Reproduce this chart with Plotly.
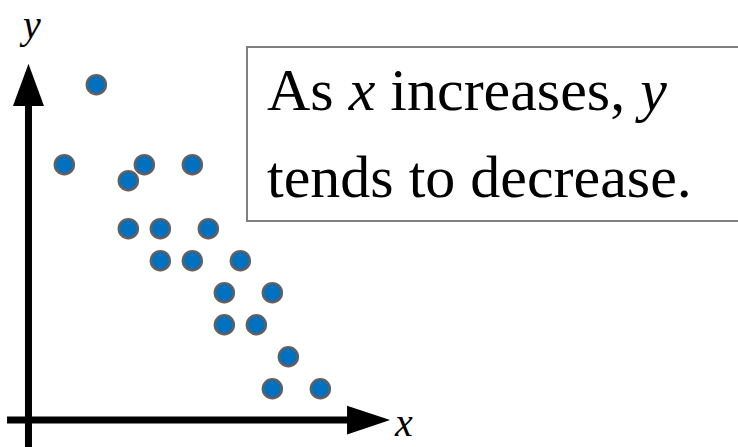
import plotly.graph_objects as go

# scatter data (arbitrary units)
x_vals = [4, 2, 7, 10, 6, 6, 8, 11, 8, 10, 13, 12, 15, 12, 14, 16, 15, 18]
y_vals = [20, 15, 15, 15, 14, 11, 11, 11, 9, 9, 9, 7, 7, 5, 5, 3, 1, 1]

caption_lines = ["As <i>x</i> increases, <i>y</i>", "tends to decrease."]
x_label = "<i>x</i>"
y_label = "<i>y</i>"

W, H = 738, 447
X_RANGE = [-2.02, 44.1]
Y_RANGE = [-2.64, 25.29]

AX_X = -0.24      # position of the vertical axis
AX_Y = -0.96      # position of the horizontal axis
BLUE = "#0070C0"
EDGE = "#606060"
SERIF = "'Liberation Serif', 'DejaVu Serif', serif"

fig = go.Figure()
fig.add_trace(go.Scatter(
    x=x_vals, y=y_vals, mode="markers",
    marker=dict(size=19, color=BLUE, line=dict(color=EDGE, width=2.5)),
    hoverinfo="skip", showlegend=False,
))

shapes = [
    # vertical axis + arrowhead
    dict(type="line", x0=AX_X, x1=AX_X, y0=Y_RANGE[0], y1=19.0,
         line=dict(color="black", width=7)),
    dict(type="path", path=f"M {AX_X-0.97},18.67 L {AX_X+0.97},18.67 L {AX_X},21.3 Z",
         fillcolor="black", line=dict(width=0)),
    # horizontal axis + arrowhead
    dict(type="line", x0=-1.58, x1=20.0, y0=AX_Y, y1=AX_Y,
         line=dict(color="black", width=7)),
    dict(type="path", path=f"M 19.67,{AX_Y-0.9} L 19.67,{AX_Y+0.9} L 22.36,{AX_Y} Z",
         fillcolor="black", line=dict(width=0)),
    # caption box
    dict(type="rect", xref="paper", yref="paper",
         x0=247/W, x1=745/W, y0=1-221/H, y1=1-47/H,
         line=dict(color="#7f7f7f", width=2), fillcolor="rgba(0,0,0,0)"),
]
for s in shapes:
    s.setdefault("xref", "x")
    s.setdefault("yref", "y")
    s["layer"] = "above" if s["type"] != "rect" else "below"

annotations = [
    dict(text=caption_lines[0], xref="paper", yref="paper", x=265/W, y=1-90/H,
         xanchor="left", yanchor="middle", showarrow=False,
         font=dict(family=SERIF, size=60, color="black")),
    dict(text=caption_lines[1], xref="paper", yref="paper", x=265/W, y=1-177/H,
         xanchor="left", yanchor="middle", showarrow=False,
         font=dict(family=SERIF, size=60, color="black")),
    dict(text=y_label, xref="paper", yref="paper", x=30/W, y=1-24/H,
         xanchor="center", yanchor="middle", showarrow=False,
         font=dict(family=SERIF, size=40, color="black")),
    dict(text=x_label, xref="paper", yref="paper", x=403/W, y=1-422/H,
         xanchor="center", yanchor="middle", showarrow=False,
         font=dict(family=SERIF, size=40, color="black")),
]

fig.update_layout(
    width=W, height=H,
    margin=dict(l=0, r=0, t=0, b=0),
    paper_bgcolor="white", plot_bgcolor="white",
    font=dict(family=SERIF),
    xaxis=dict(range=X_RANGE, visible=False, fixedrange=True),
    yaxis=dict(range=Y_RANGE, visible=False, fixedrange=True),
    shapes=shapes, annotations=annotations,
)

fig.write_html("out.html", config={"displayModeBar": False})
